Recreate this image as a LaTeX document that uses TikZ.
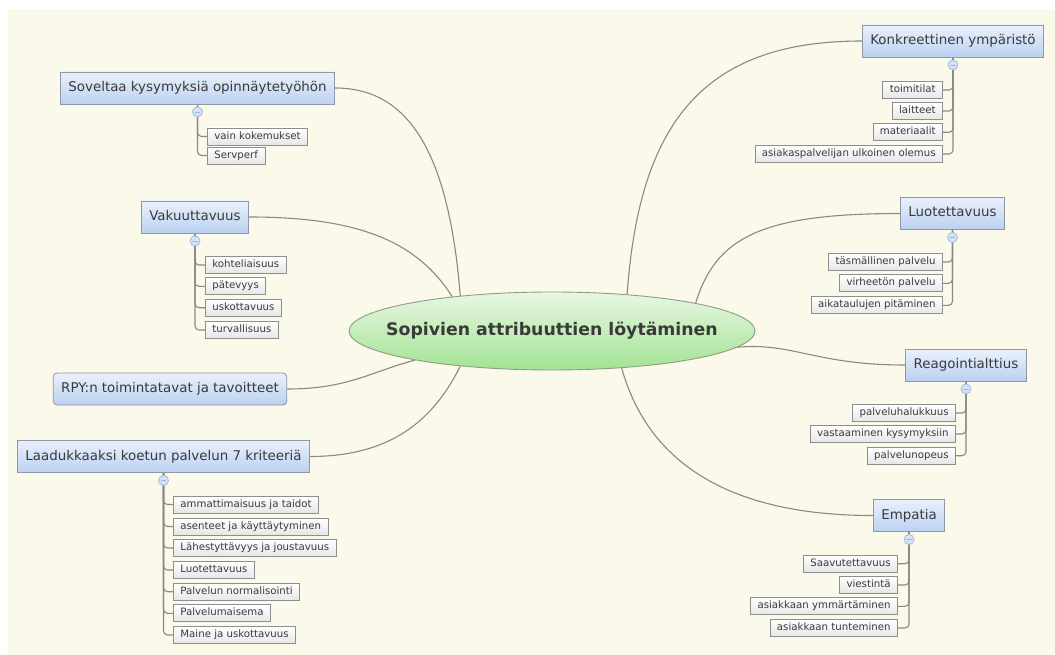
\documentclass[tikz,border=0pt]{standalone}
\usepackage{fontspec}
\setmainfont{DejaVu Sans}
\usetikzlibrary{shapes.geometric,backgrounds}

\definecolor{paper}{HTML}{FBF9E9}
\definecolor{ink}{HTML}{3A3A3A}
\definecolor{topictop}{HTML}{EAF1FC}
\definecolor{topicbot}{HTML}{BBD1F1}
\definecolor{topicedge}{HTML}{8E98A6}
\definecolor{leafedge}{HTML}{8E8E8E}
\definecolor{leafbot}{HTML}{E6E6E6}
\definecolor{wire}{HTML}{8A8A80}
\definecolor{hubtop}{HTML}{E8F7E2}
\definecolor{hubbot}{HTML}{A3E394}
\definecolor{hubedge}{HTML}{8C9C88}
\definecolor{knobfill}{HTML}{D5E3F8}
\definecolor{knobedge}{HTML}{9CB6E2}

\tikzset{
  hub/.style={ellipse, minimum width=406pt, minimum height=78pt,
    inner xsep=-26pt, inner ysep=0pt,
    top color=hubtop, bottom color=hubbot, draw=hubedge, line width=0.9pt,
    text=ink, font=\fontsize{17.3}{20}\selectfont\bfseries},
  topic/.style={rectangle, draw=topicedge, line width=0.9pt,
    top color=topictop, bottom color=topicbot, text=ink,
    font=\fontsize{13.4}{16}\selectfont, inner xsep=8pt, inner ysep=0pt,
    minimum height=32pt, text height=10pt, text depth=3pt},
  leaf/.style={rectangle, draw=leafedge, line width=0.8pt,
    top color=white, bottom color=leafbot, text=ink,
    font=\fontsize{10.2}{12}\selectfont, inner xsep=7pt, inner ysep=0pt,
    minimum height=17pt, text height=7.6pt, text depth=2.4pt},
  lleaf/.style={leaf, anchor=west},
  rleaf/.style={leaf, anchor=east},
  knob/.style={circle, minimum size=10pt, inner sep=0pt, fill=knobfill,
    draw=knobedge, line width=0.7pt,
    path picture={\draw[knobedge, line width=0.8pt]
      ([xshift=-2.6pt]path picture bounding box.center) --
      ([xshift=2.6pt]path picture bounding box.center);}},
  branch/.style={draw=wire, line width=1.1pt},
  twig/.style={draw=wire, line width=1.1pt, rounded corners=4pt},
}

\begin{document}
\begin{tikzpicture}[x=1pt,y=-1pt]
\useasboundingbox (0,0) rectangle (1055,655);

% central topic
\node[hub] (c) at (552,331) {Sopivien attribuuttien löytäminen};

% left side
\node[topic] (sov) at (197.5,88) {Soveltaa kysymyksiä opinnäytetyöhön};
\node[knob] (sovk) at ([yshift=-7.5pt]sov.south) {};
\node[lleaf] (sov1) at (207,136.5) {vain kokemukset};
\node[lleaf] (sov2) at (207,155.5) {Servperf};

\node[topic] (vak) at (195,217) {Vakuuttavuus};
\node[knob] (vakk) at ([yshift=-7.5pt]vak.south) {};
\node[lleaf] (vak1) at (205,265) {kohteliaisuus};
\node[lleaf] (vak2) at (205,286.3) {pätevyys};
\node[lleaf] (vak3) at (205,307.7) {uskottavuus};
\node[lleaf] (vak4) at (205,330) {turvallisuus};

\node[topic, rounded corners=4pt] (rpy) at (170,389) {RPY:n toimintatavat ja tavoitteet};

\node[topic] (laa) at (163.5,456.5) {Laadukkaaksi koetun palvelun 7 kriteeriä};
\node[knob] (laak) at ([yshift=-7.5pt]laa.south) {};
\node[lleaf] (laa1) at (173,504.5) {ammattimaisuus ja taidot};
\node[lleaf] (laa2) at (173,526.5) {asenteet ja käyttäytyminen};
\node[lleaf] (laa3) at (173,548) {Lähestyttävyys ja joustavuus};
\node[lleaf] (laa4) at (173,570) {Luotettavuus};
\node[lleaf] (laa5) at (173,591.7) {Palvelun normalisointi};
\node[lleaf] (laa6) at (173,613.3) {Palvelumaisema};
\node[lleaf] (laa7) at (173,635) {Maine ja uskottavuus};

% right side
\node[topic] (kon) at (953,41) {Konkreettinen ympäristö};
\node[knob] (konk) at ([yshift=-7.5pt]kon.south) {};
\node[rleaf] (kon1) at (943,90) {toimitilat};
\node[rleaf] (kon2) at (943,111) {laitteet};
\node[rleaf] (kon3) at (943,132.3) {materiaalit};
\node[rleaf] (kon4) at (943,154) {asiakaspalvelijan ulkoinen olemus};

\node[topic] (luo) at (952.5,213.5) {Luotettavuus};
\node[knob] (luok) at ([yshift=-7.5pt]luo.south) {};
\node[rleaf] (luo1) at (943,262) {täsmällinen palvelu};
\node[rleaf] (luo2) at (943,283.3) {virheetön palvelu};
\node[rleaf] (luo3) at (943,305.3) {aikataulujen pitäminen};

\node[topic] (rea) at (966,365) {Reagointialttius};
\node[knob] (reak) at ([yshift=-7.5pt]rea.south) {};
\node[rleaf] (rea1) at (956,413) {palveluhalukkuus};
\node[rleaf] (rea2) at (956,434) {vastaaminen kysymyksiin};
\node[rleaf] (rea3) at (956,455.7) {palvelunopeus};

\node[topic] (emp) at (909,515.5) {Empatia};
\node[knob] (empk) at ([yshift=-7.5pt]emp.south) {};
\node[rleaf] (emp1) at (898,563.7) {Saavutettavuus};
\node[rleaf] (emp2) at (898,585) {viestintä};
\node[rleaf] (emp3) at (898,606.3) {asiakkaan ymmärtäminen};
\node[rleaf] (emp4) at (898,628) {asiakkaan tunteminen};

\begin{pgfonlayer}{background}
  \fill[white] (0,0) rectangle (1055,655);
  \fill[paper] (8,9) rectangle (1055,655);

  % curved branches from the central topic
  \draw[branch] (sov.east) .. controls +(70,0) and +(-12,-150) .. (c.159);
  \draw[branch] (vak.east) .. controls +(110,0) and +(-35,-55) .. (c.161.7);
  \draw[branch] (rpy.east) .. controls +(60,0) and +(-45,12) .. (c.192);
  \draw[branch] (laa.east) .. controls +(85,0) and +(-25,50) .. (c.201);
  \draw[branch] (kon.west) .. controls +(-160,0) and +(12,-170) .. (c.26.6);
  \draw[branch] (luo.west) .. controls +(-140,0) and +(20,-65) .. (c.11);
  \draw[branch] (rea.west) .. controls +(-90,0) and +(55,-5) .. (c.355);
  \draw[branch] (emp.west) .. controls +(-150,0) and +(25,90) .. (c.332);

  % subtopic trees
  \foreach \t/\n in {sov/2, vak/4, laa/7}{
    \foreach \i in {1,...,\n}{
      \draw[twig] (\t.south) |- (\t\i.west);
    }
  }
  \foreach \t/\n in {kon/4, luo/3, rea/3, emp/4}{
    \foreach \i in {1,...,\n}{
      \draw[twig] (\t.south) |- (\t\i.east);
    }
  }
\end{pgfonlayer}
\end{tikzpicture}
\end{document}
